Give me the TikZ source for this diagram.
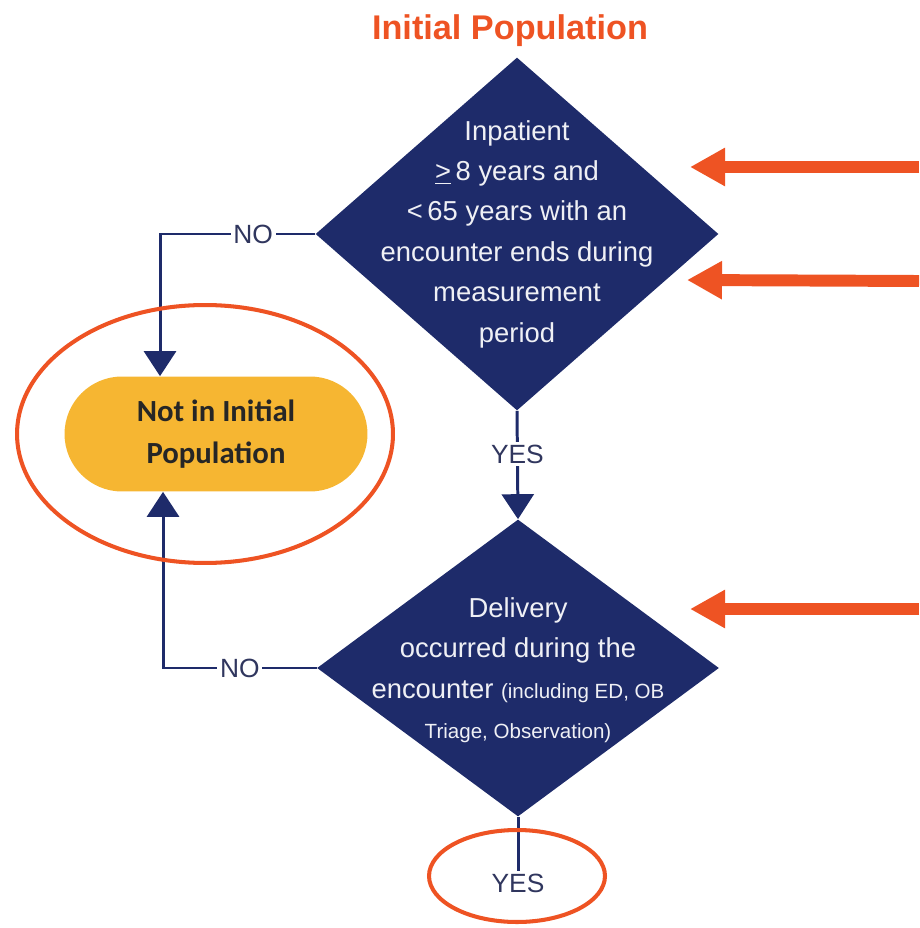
\documentclass[tikz,border=0pt]{standalone}
\usepackage{fontspec}
\setmainfont{Liberation Sans}
\newfontfamily\calibri{Carlito}
\usetikzlibrary{shapes,arrows.meta,positioning,calc}
\definecolor{navy}{HTML}{1E2B6A}
\definecolor{alert}{HTML}{EE5323}
\definecolor{amber}{HTML}{F6B632}
\definecolor{labelgray}{HTML}{30365E}

\begin{document}
\begin{tikzpicture}[x=0.02cm,y=-0.02cm]
  % Initial population flow chart (coordinates in pixels)
  \tikzset{decision/.style={diamond,fill=navy,inner sep=0,aspect=1},
    dtext/.style={text=white!93!navy,align=center,font=\fontsize{15.6}{23}\selectfont},
    term/.style={fill=amber,rounded corners=1.15cm,minimum width=6.06cm,minimum height=2.3cm,
      align=center,text=black!85,font=\calibri\bfseries\fontsize{17.5}{23.5}\selectfont},
    flow/.style={navy,line width=1.7pt,-{Triangle[length=0.5cm,width=0.64cm]}},
    lbl/.style={fill=white,text=labelgray,inner sep=1.5pt,font=\fontsize{15}{18}\selectfont},
    hilite/.style={alert,line width=2.3pt},
    callout/.style={alert,line width=6.8pt,-{Triangle[length=0.7cm,width=0.72cm]}}}
  \useasboundingbox (0,0) rectangle (919,928);

  \node[font=\bfseries\fontsize{19.5}{23}\selectfont,text=alert] (title) at (510,31) {Initial Population};

  % decisions
  \node[decision,minimum width=8.06cm,minimum height=7.06cm] (incl) at (517,234) {};
  \node[dtext] (incltxt) at (incl) {Inpatient\\\underline{>}\,8 years and\\<\,65 years with an\\encounter ends during\\measurement\\period};
  \node[decision,minimum width=8.04cm,minimum height=5.94cm] (deliv) at (518,668) {};
  \node[dtext] (delivtxt) at ([yshift=-0.04cm]deliv) {Delivery\\occurred during the\\encounter {\fontsize{11.7}{23}\selectfont(including ED, OB}\\{\fontsize{11.7}{23}\selectfont Triage, Observation)}};

  % terminal
  \node[term] (notip) at (216,434) {Not in Initial\\Population};

  % connectors
  \draw[flow] (incl.west) -| node[lbl,pos=0.2] (no1) {NO} ([xshift=-1.12cm]notip.north);
  \draw[flow] (deliv.west) -| node[lbl,pos=0.25] (no2) {NO} ([xshift=-1.06cm]notip.south);
  \draw[flow] (incl.south) -- node[lbl,pos=0.4] (yes1) {YES} (deliv.north);
  \node[lbl] (yes2) at (518,883) {YES};
  \draw[navy,line width=1.7pt] (deliv.south) -- (yes2);

  % highlights
  \draw[hilite] (205,434) ellipse [x radius=3.76cm,y radius=2.58cm];
  \draw[hilite] (517,876) ellipse [x radius=1.76cm,y radius=0.92cm];
  \coordinate (s1) at (919,167); \coordinate (t1) at (690,167);
  \coordinate (s2) at (919,281); \coordinate (t2) at (687,280);
  \coordinate (s3) at (919,609); \coordinate (t3) at (690,609);
  \draw[callout] (s1) -- (t1);
  \draw[callout] (s2) -- (t2);
  \draw[callout] (s3) -- (t3);
\end{tikzpicture}
\end{document}
